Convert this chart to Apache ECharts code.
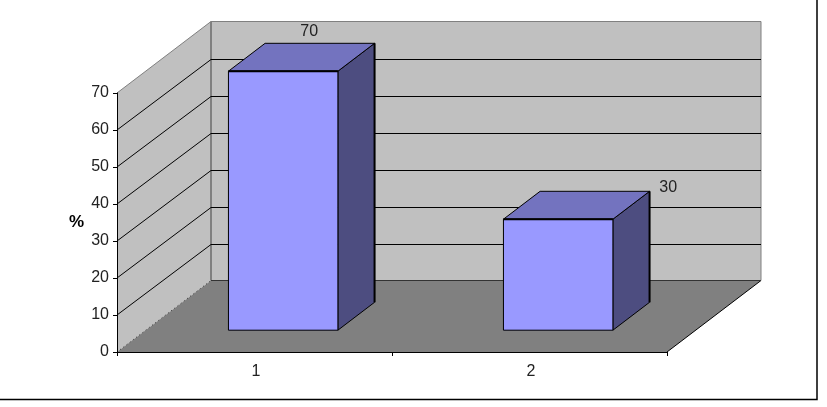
<!DOCTYPE html>
<html><head><meta charset="utf-8">
<style>html,body{margin:0;padding:0;background:#fff}#c{width:827px;height:407px}</style>
<script src="https://cdn.jsdelivr.net/npm/echarts@6/dist/echarts.min.js"></script>
</head><body><div id="c"></div>
<script>
const categories = ['1', '2'];
const percentValues = [70, 30];
const yTickValues = [0, 10, 20, 30, 40, 50, 60, 70];

// Presentation of the oblique 3D projection
const DEPTH_X = 94, DEPTH_Y = -71.5, BAR_D0 = 0.305, BAR_D1 = 0.695, BAR_W = 0.398;
const labelShift = [[26, -39.5], [110, -31.5]];
const COLORS = { wall: '#C0C0C0', floor: '#808080', edge: '#808080', front: '#9999FF', top: '#7373BF', side: '#4D4D80', ink: '#000' };
const TXT = '#222';
const FONT = '"Liberation Sans", Arial, sans-serif';

const chart = echarts.init(document.getElementById('c'), null, { renderer: 'canvas' });
const shift = (p, t) => [p[0] + DEPTH_X * t, p[1] + DEPTH_Y * t];
const crisp = v => Math.round(v) + 0.5;
const poly = (points, fill, stroke, lw) => ({
  type: 'polygon', shape: { points }, style: { fill, stroke: stroke || null, lineWidth: lw || 0 }
});
const line = (points, stroke, lw, lineDash) => ({
  type: 'polyline', shape: { points }, style: { fill: null, stroke, lineWidth: lw, lineDash: lineDash || null }
});

function renderWalls(params, api) {
  const yMax = yTickValues[yTickValues.length - 1];
  const band = api.size([1, 0])[0];
  const x0 = api.coord([0, 0])[0] - band / 2;
  const x1 = api.coord([categories.length - 1, 0])[0] + band / 2;
  const y0 = api.coord([0, 0])[1], yT = api.coord([0, yMax])[1];
  const fl = [x0, y0], fr = [x1, y0], tl = [x0, yT];
  const bl = shift(fl, 1), br = shift(fr, 1), btl = shift(tl, 1), btr = shift([x1, yT], 1);
  return { type: 'group', children: [
    poly([fl, bl, btl, tl], COLORS.wall),
    poly([bl, br, btr, btl], COLORS.wall),
    poly([fl, fr, br, bl], COLORS.floor),
    line([tl, btl, btr, br], COLORS.edge, 1),
    line([bl, btl], COLORS.edge, 2),
    line([fl, bl], '#333', 1, [1, 3]),
    line([fr, br], '#000', 1),
    line([bl, br], '#333', 1)
  ]};
}

function renderGrid(params, api) {
  const v = api.value(0);
  const band = api.size([1, 0])[0];
  const x0 = api.coord([0, 0])[0] - band / 2;
  const x1 = api.coord([categories.length - 1, 0])[0] + band / 2;
  const y = api.coord([0, v])[1];
  const back = shift([x0, y], 1), backR = shift([x1, y], 1);
  const by = crisp(back[1]);
  return line([[x0, y], [back[0], by], [backR[0], by]], COLORS.ink, 1);
}

function renderBar(params, api) {
  const i = params.dataIndex;
  const v = api.value(1);
  const band = api.size([1, 0])[0];
  const top = api.coord([i, v]), base = api.coord([i, 0]);
  const hw = band * BAR_W / 2;
  const d = BAR_D1 - BAR_D0;
  const fbl = shift([base[0] - hw, base[1]], BAR_D0);
  const fbr = shift([base[0] + hw, base[1]], BAR_D0);
  const ftl = shift([top[0] - hw, top[1]], BAR_D0);
  const ftr = shift([top[0] + hw, top[1]], BAR_D0);
  const btl = shift(ftl, d), btr = shift(ftr, d), bbr = shift(fbr, d);
  const sft = labelShift[i];
  return { type: 'group', children: [
    poly([fbr, bbr, btr, ftr], COLORS.side, COLORS.ink, 1),
    poly([ftl, btl, btr, ftr], COLORS.top, COLORS.ink, 1),
    poly([fbl, fbr, ftr, ftl], COLORS.front, COLORS.ink, 1),
    line([ftl, ftr], COLORS.ink, 2),
    line([btr, bbr], COLORS.ink, 2),
    { type: 'text', style: {
        x: (ftl[0] + ftr[0]) / 2 + sft[0], y: ftl[1] + sft[1],
        text: String(v), fill: TXT, font: '16px ' + FONT, textAlign: 'center', textVerticalAlign: 'middle'
    } }
  ]};
}

chart.setOption({
  animation: false,
  backgroundColor: '#fff',
  grid: { left: 117, top: 93, width: 550, height: 259, containLabel: false },
  tooltip: { show: false },
  xAxis: {
    type: 'category', data: categories, z: 5,
    axisLine: { show: true, lineStyle: { color: '#000', width: 1 } },
    axisTick: { show: true, length: 4, alignWithLabel: false, lineStyle: { color: '#000' } },
    axisLabel: { color: TXT, fontFamily: FONT, fontSize: 16, margin: 12, padding: [0, 0, 0, 3] },
    splitLine: { show: false }
  },
  yAxis: {
    type: 'value', min: 0, max: 70, interval: 10, z: 5,
    name: '%', nameLocation: 'middle', nameGap: 33, nameRotate: 0,
    nameTextStyle: { color: '#000', fontFamily: FONT, fontSize: 17, fontWeight: 'bold', padding: [5, 0, 0, 0] },
    axisLine: { show: true, lineStyle: { color: '#000', width: 1 } },
    axisTick: { show: true, length: 4, lineStyle: { color: '#000' } },
    axisLabel: { color: TXT, fontFamily: FONT, fontSize: 16, margin: 8 },
    splitLine: { show: false }
  },
  series: [
    { type: 'custom', coordinateSystem: 'cartesian2d', z: 1, silent: true, clip: false,
      renderItem: renderWalls, data: [[0, 0]], encode: { x: 0, y: 1 } },
    { type: 'custom', coordinateSystem: 'cartesian2d', z: 2, silent: true, clip: false,
      renderItem: renderGrid, data: yTickValues.slice(1, -1).map(v => [v]), encode: { y: 0 } },
    { type: 'custom', coordinateSystem: 'cartesian2d', z: 3, silent: true, clip: false,
      renderItem: renderBar, data: percentValues.map((v, i) => [i, v]), encode: { x: 0, y: 1 } }
  ],
  graphic: [
    { type: 'polyline', silent: true, z: 10,
      shape: { points: [[0, 399.5], [817, 399.5], [817, 0]] },
      style: { fill: null, stroke: '#000', lineWidth: 1.5 } }
  ]
});
</script></body></html>
